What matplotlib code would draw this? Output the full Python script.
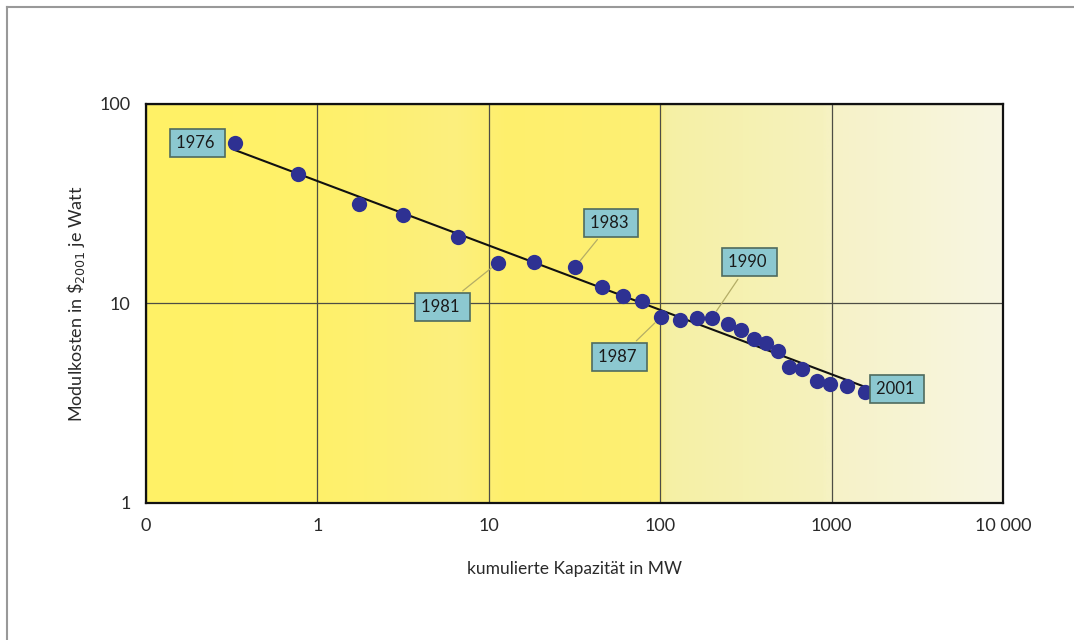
#!/usr/bin/env python3
"""Lernkurve PV-Module: Modulkosten vs. kumulierte Kapazität (log-log)."""
import matplotlib
matplotlib.use("Agg")
import matplotlib.pyplot as plt
import numpy as np
from matplotlib.colors import LinearSegmentedColormap
from matplotlib.lines import Line2D

plt.rcParams["font.family"] = ["Lato", "DejaVu Sans"]

# ------------------------------------------------------------------
# data
# ------------------------------------------------------------------
years = [1976, 1977, 1978, 1979, 1980, 1981, 1982, 1983, 1984, 1985, 1986, 1987, 1988,
         1989, 1990, 1991, 1992, 1993, 1994, 1995, 1996, 1997, 1998, 1999, 2000, 2001]
capacity_mw = [0.33, 0.77, 1.75, 3.16, 6.6, 11.3, 18.4, 31.8, 45.7, 60.7, 78.3, 101,
               131, 164, 200, 249, 296, 352, 414, 487, 564, 672, 822, 979, 1230, 1566]
cost_per_watt = [63.8, 44.6, 31.6, 27.8, 21.5, 16.0, 16.2, 15.2, 12.1, 10.9, 10.3, 8.55,
                 8.27, 8.46, 8.46, 7.89, 7.36, 6.64, 6.34, 5.78, 4.81, 4.70, 4.09, 3.95,
                 3.86, 3.60]
fit_x = [0.33, 1630]
fit_y = [58.8, 3.77]
labelled_years = [1976, 1981, 1983, 1987, 1990, 2001]

x_ticks = [0.1, 1, 10, 100, 1000, 10000]
x_ticklabels = ["0", "1", "10", "100", "1000", "10 000"]
y_ticks = [1, 10, 100]
y_ticklabels = ["1", "10", "100"]

# label box offsets in points relative to the marked point
label_offsets = {
    1976: (-27, 0),
    1981: (-40, -32),
    1983: (26, 32),
    1987: (-30, -29),
    1990: (27, 40),
    2001: (23, 2),
}
leader_years = {1981, 1983, 1987, 1990}

fig = plt.figure(figsize=(10.74, 6.4), dpi=100)
ax = fig.add_axes([0.1359, 0.2141, 0.7980, 0.6234])

# background gradient (yellow -> cream)
bg = LinearSegmentedColormap.from_list("bg", [
    (0.00, "#FFF266"), (0.20, "#FFF16A"), (0.36, "#FCEF7E"), (0.42, "#FFF06C"),
    (0.598, "#FDEF74"), (0.605, "#F5F0A4"), (0.79, "#F6F2BE"), (0.805, "#F6F2C8"),
    (1.00, "#F8F6E2"),
])
ax.imshow(np.linspace(0, 1, 512)[None, :], cmap=bg, aspect="auto",
          extent=[0, 1, 0, 1], transform=ax.transAxes, zorder=0)

ax.set_xscale("log")
ax.set_yscale("log")
ax.set_xlim(0.1, 10000)
ax.set_ylim(1, 100)
ax.minorticks_off()
ax.set_xticks(x_ticks)
ax.set_xticklabels(x_ticklabels)
ax.set_yticks(y_ticks)
ax.set_yticklabels(y_ticklabels)
ax.tick_params(length=0, labelsize=13, colors="#2a2a2a")
ax.tick_params(axis="x", pad=11)
ax.tick_params(axis="y", pad=11)
ax.grid(True, color="#4d4d45", lw=0.9, zorder=1)
for s in ax.spines.values():
    s.set_linewidth(1.6)
    s.set_color("#111111")
    s.set_zorder(5)

ax.plot(fit_x, fit_y, color="#111111", lw=1.5, zorder=3)
ax.plot(capacity_mw, cost_per_watt, "o", ms=11, color="#2E3192",
        markeredgewidth=0, zorder=4)

for yr in labelled_years:
    i = years.index(yr)
    arrow = dict(arrowstyle="-", color="#b4ad66", lw=0.9, shrinkB=6) \
        if yr in leader_years else None
    ax.annotate(f"{yr} ", (capacity_mw[i], cost_per_watt[i]),
                xytext=label_offsets[yr], textcoords="offset points",
                ha="center", va="center", fontsize=12, color="#1a1a1a",
                bbox=dict(boxstyle="square,pad=0.36", fc="#8CC8D0", ec="#4f6b5e", lw=1.2),
                arrowprops=arrow, zorder=6)

ax.set_xlabel("kumulierte Kapazität in MW", fontsize=12.5, labelpad=19, color="#2a2a2a")
ax.set_ylabel("Modulkosten in \\$$_{2001}$ je Watt", fontsize=13, labelpad=9,
              color="#2a2a2a")

# thin grey frame on top and left of the figure
fig.add_artist(Line2D([0.0065, 1], [0.989, 0.989], color="#999999", lw=1.5,
                      transform=fig.transFigure))
fig.add_artist(Line2D([0.0065, 0.0065], [0, 0.989], color="#999999", lw=1.5,
                      transform=fig.transFigure))

fig.savefig("out.png", dpi=100)
